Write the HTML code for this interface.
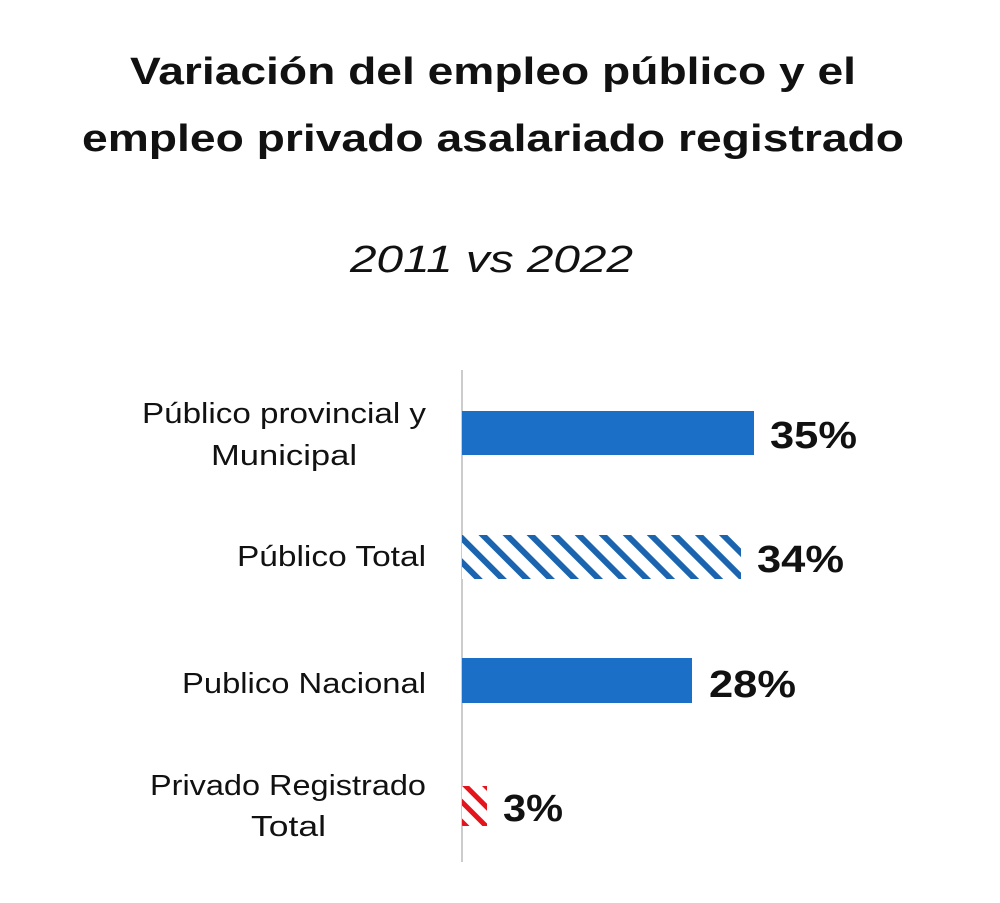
<!DOCTYPE html>
<html><head><meta charset="utf-8"><style>
body{margin:0;width:1000px;height:898px;background:#fff;overflow:hidden;font-family:"Liberation Sans",sans-serif}
</style></head><body>
<svg width="1000" height="898" xmlns="http://www.w3.org/2000/svg">
<defs>
<pattern id="hb" patternUnits="userSpaceOnUse" width="17" height="17" patternTransform="rotate(45)">
<rect width="17" height="17" fill="#fff"/><rect width="17" height="6" fill="#1b65b0"/></pattern>
<pattern id="hr" patternUnits="userSpaceOnUse" width="14" height="14" patternTransform="rotate(45)">
<rect width="14" height="14" fill="#fff"/><rect width="14" height="5" fill="#e3141b"/></pattern>
</defs>
<g font-weight="bold" font-size="38" fill="#111" lengthAdjust="spacingAndGlyphs">
<text x="130" y="84" textLength="726" lengthAdjust="spacingAndGlyphs">Variación del empleo público y el</text>
<text x="82" y="151" textLength="822" lengthAdjust="spacingAndGlyphs">empleo privado asalariado registrado</text>
</g>
<text x="350" y="272" font-size="38" font-style="italic" fill="#111" textLength="283" lengthAdjust="spacingAndGlyphs">2011 vs 2022</text>
<line x1="462" y1="370" x2="462" y2="862" stroke="#ccc" stroke-width="2"/>
<rect x="462" y="411" width="292" height="44" fill="#1b6fc6"/>
<rect x="462" y="535" width="279" height="44" fill="url(#hb)"/>
<rect x="462" y="658" width="230" height="45" fill="#1b6fc6"/>
<rect x="462" y="786" width="25" height="40" fill="url(#hr)"/>
<g font-size="29" fill="#111">
<text x="142" y="423" textLength="284" lengthAdjust="spacingAndGlyphs">Público provincial y</text>
<text x="211" y="465" textLength="146" lengthAdjust="spacingAndGlyphs">Municipal</text>
<text x="237" y="566" textLength="189" lengthAdjust="spacingAndGlyphs">Público Total</text>
<text x="182" y="693" textLength="244" lengthAdjust="spacingAndGlyphs">Publico Nacional</text>
<text x="150" y="795" textLength="276" lengthAdjust="spacingAndGlyphs">Privado Registrado</text>
<text x="251" y="836" textLength="75" lengthAdjust="spacingAndGlyphs">Total</text>
</g>
<g font-size="38" font-weight="bold" fill="#111">
<text x="770" y="448" textLength="87" lengthAdjust="spacingAndGlyphs">35%</text>
<text x="757" y="572" textLength="87" lengthAdjust="spacingAndGlyphs">34%</text>
<text x="709" y="697" textLength="87" lengthAdjust="spacingAndGlyphs">28%</text>
<text x="503" y="821" textLength="60" lengthAdjust="spacingAndGlyphs">3%</text>
</g>
</svg>
</body></html>
